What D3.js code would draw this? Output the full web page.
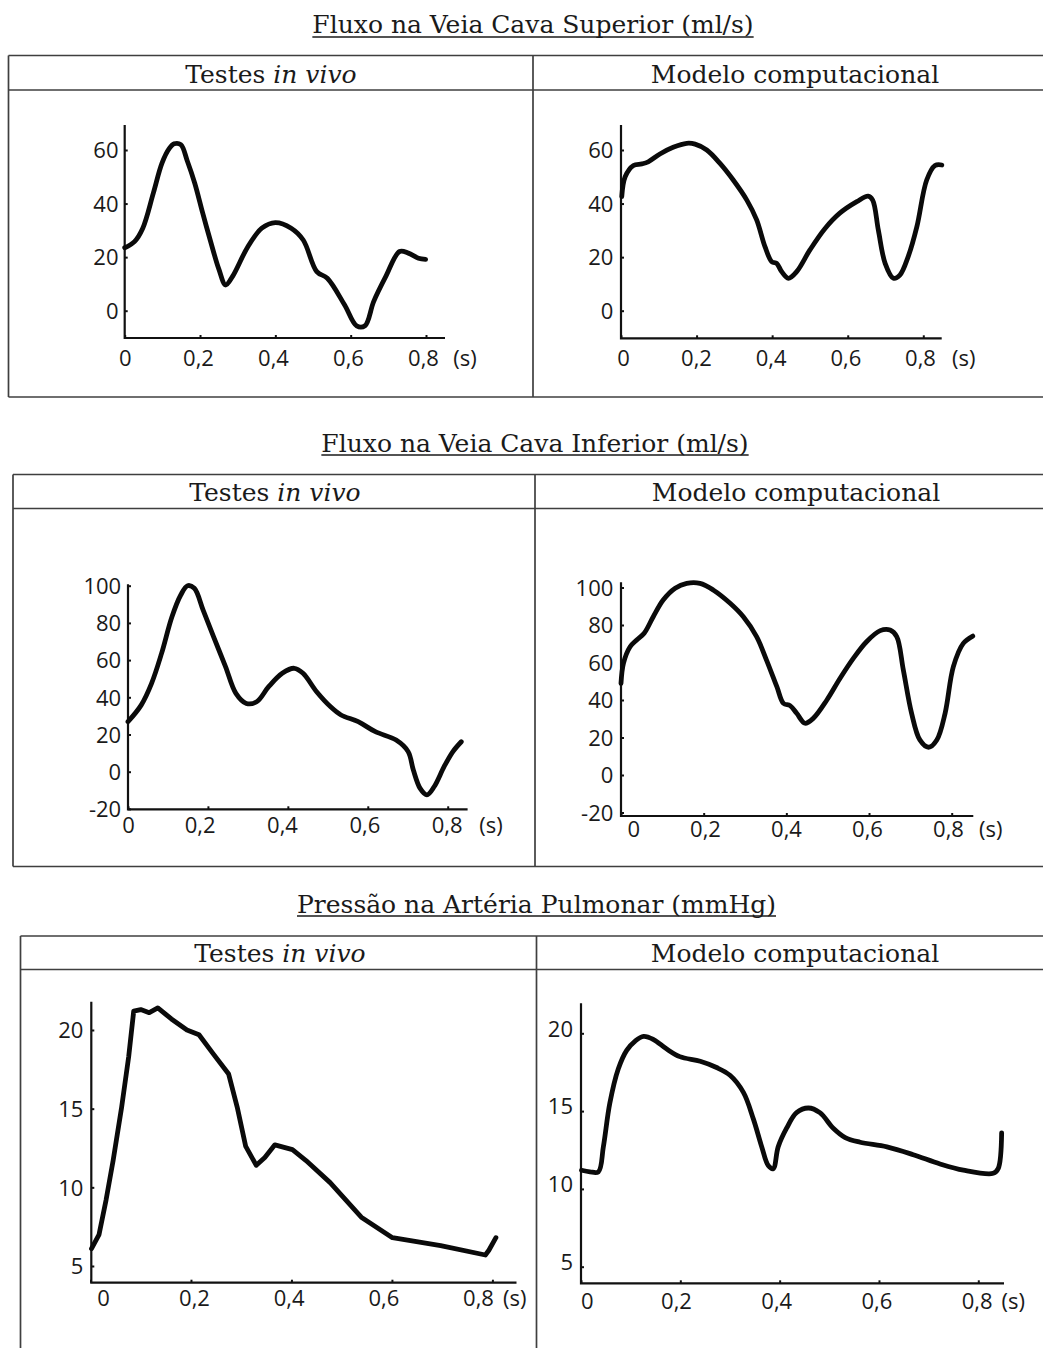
<!DOCTYPE html>
<html>
<head>
<meta charset="utf-8">
<script src="https://cdn.jsdelivr.net/npm/d3@7"></script>
<style>
  body { margin: 0; background: #fff; }
  svg { display: block; }
  .title, .head { font-family: "DejaVu Serif", serif; font-size: 25px; fill: #1a1a1a; }
  .tick-lab text, .unit { font-family: "Open Sans", sans-serif; font-size: 22px; fill: #1a1a1a; }
</style>
</head>
<body>
<svg id="chart" width="1043" height="1348"></svg>
<script>
// ---- tick values and labels ----
const xTicks = [0, 0.2, 0.4, 0.6, 0.8];
const xTickLabels = ["0", "0,2", "0,4", "0,6", "0,8"];
const flowTicksSVC = [0, 20, 40, 60];
const flowTicksIVC = [-20, 0, 20, 40, 60, 80, 100];
const pressureTicks = [5, 10, 15, 20];

// ---- text ----
const sectionTitles = [
  "Fluxo na Veia Cava Superior (ml/s)",
  "Fluxo na Veia Cava Inferior (ml/s)",
  "Pressão na Artéria Pulmonar (mmHg)"
];
const columnTitles = [["Testes ", "in vivo"], ["Modelo computacional", ""]];

// ---- series: [time (s), value] ----
const svcInVivo = [
  [0, 23.5], [0.026, 25.8], [0.048, 30.8], [0.076, 43.9], [0.099, 55.1], [0.118, 60.5],
  [0.131, 62.3], [0.149, 62], [0.166, 56], [0.186, 47.6], [0.207, 36.5], [0.227, 26.4],
  [0.25, 15.5], [0.268, 9.6], [0.286, 12.7], [0.327, 23.9], [0.364, 30.8], [0.4, 32.9],
  [0.442, 30.8], [0.474, 26.4], [0.51, 14.6], [0.538, 12.1], [0.584, 2.1], [0.616, -5.7],
  [0.638, -5.6], [0.661, 3.4], [0.693, 12.7], [0.73, 22.1], [0.753, 21.5], [0.78, 19.6],
  [0.799, 19.2]
];
const svcModel = [
  [0.002, 42.6], [0.011, 50], [0.033, 54.2], [0.055, 54.8], [0.072, 55.6], [0.103, 58.5],
  [0.138, 61], [0.174, 62.5], [0.196, 62.2], [0.227, 60], [0.262, 55], [0.297, 48.8],
  [0.333, 41.3], [0.359, 33.9], [0.381, 23.9], [0.399, 18.3], [0.412, 17.7], [0.425, 14.6],
  [0.443, 12.1], [0.465, 14.6], [0.5, 22.7], [0.54, 30.7], [0.579, 36.4], [0.624, 40.7],
  [0.654, 42.8], [0.666, 41.3], [0.681, 30.1], [0.699, 17.7], [0.721, 12.1], [0.738, 13.3],
  [0.76, 20.2], [0.783, 31.4], [0.809, 48.8], [0.831, 54.2], [0.849, 54.4]
];
const ivcInVivo = [
  [0, 26.9], [0.033, 35.8], [0.059, 47.5], [0.084, 63.6], [0.11, 83.3], [0.132, 95],
  [0.149, 100], [0.166, 98.6], [0.188, 86.9], [0.214, 72.6], [0.244, 56.5], [0.27, 42.1],
  [0.296, 36.7], [0.322, 37.6], [0.352, 45.7], [0.386, 52.9], [0.416, 55.6], [0.438, 52.9],
  [0.472, 43], [0.507, 34.9], [0.533, 30.5], [0.576, 26.9], [0.619, 21.5], [0.671, 17],
  [0.701, 10.8], [0.714, 0.9], [0.731, -9], [0.748, -12.5], [0.766, -8.1], [0.791, 2.7],
  [0.813, 10.8], [0.834, 16.1]
];
const ivcModel = [
  [0, 48.9], [0.006, 59.6], [0.022, 68.4], [0.038, 72], [0.056, 75.6], [0.078, 84.4],
  [0.102, 93.3], [0.131, 99.6], [0.159, 102.2], [0.191, 102.2], [0.223, 98.7], [0.264, 91.6],
  [0.296, 84.4], [0.328, 73.8], [0.352, 61.3], [0.377, 47.1], [0.393, 38.2], [0.409, 37],
  [0.425, 32.9], [0.445, 27.6], [0.465, 30.2], [0.498, 40], [0.53, 51.6], [0.562, 62.2],
  [0.594, 71.1], [0.627, 77], [0.651, 77.3], [0.667, 73.8], [0.683, 56], [0.703, 32.9],
  [0.723, 18.7], [0.744, 14.8], [0.764, 18.7], [0.784, 32.9], [0.804, 57.8], [0.828, 70.2],
  [0.851, 74.1]
];
const paInVivo = [
  [0.002, 6.1], [0.017, 7], [0.031, 9.2], [0.045, 11.7], [0.062, 15.1], [0.076, 18.3],
  [0.086, 21.2], [0.1, 21.3], [0.117, 21.1], [0.134, 21.4], [0.161, 20.7], [0.192, 20],
  [0.216, 19.7], [0.244, 18.5], [0.275, 17.2], [0.292, 15.1], [0.309, 12.6], [0.33, 11.4],
  [0.347, 11.9], [0.367, 12.7], [0.402, 12.4], [0.429, 11.7], [0.477, 10.3], [0.539, 8.1],
  [0.601, 6.8], [0.697, 6.3], [0.786, 5.7], [0.793, 6], [0.807, 6.8]
];
const paModel = [
  [0.001, 11.2], [0.018, 11.1], [0.035, 11.1], [0.045, 12.7], [0.058, 15.5], [0.075, 17.7],
  [0.092, 18.9], [0.109, 19.5], [0.126, 19.8], [0.146, 19.6], [0.172, 19], [0.199, 18.5],
  [0.24, 18.2], [0.273, 17.8], [0.3, 17.3], [0.327, 16.2], [0.347, 14.5], [0.364, 12.7],
  [0.377, 11.5], [0.387, 11.3], [0.397, 12.7], [0.414, 13.9], [0.434, 14.9], [0.458, 15.2],
  [0.481, 14.9], [0.508, 13.9], [0.532, 13.3], [0.562, 13], [0.616, 12.7], [0.669, 12.2],
  [0.723, 11.6], [0.77, 11.2], [0.83, 11], [0.84, 11.3], [0.847, 13.6]
];

// ---- layout of the three table sections ----
const sections = [
  { title: sectionTitles[0], tx: 533, ty: 33, uy: 37,
    left: 8.5, top: 55.5, head: 90, bottom: 397, divider: 533,
    hy: 82.5, hl: 271, hr: 795 },
  { title: sectionTitles[1], tx: 535, ty: 451.5, uy: 455,
    left: 13, top: 474.5, head: 508.5, bottom: 866.5, divider: 535,
    hy: 501, hl: 275, hr: 796 },
  { title: sectionTitles[2], tx: 536.5, ty: 912.5, uy: 916,
    left: 20.5, top: 936, head: 969.5, bottom: null, divider: 536.5,
    hy: 962, hl: 280, hr: 795 }
];

// ---- layout of the six plots ----
const smooth = d3.curveCatmullRom.alpha(0.5);
const panels = [
  { data: svcInVivo, yTicks: flowTicksSVC, curve: smooth,
    x: [124.7, 426], y: [[0, 310.7], [60, 150]], axX: [124.7, 445], axY: [125, 338],
    lab: [124.7, 198, 423], labY: 358, pad: 6.2, dy: 0, unit: 465 },
  { data: svcModel, yTicks: flowTicksSVC, curve: smooth,
    x: [621, 923.3], y: [[0, 310.7], [60, 150]], axX: [621, 941.7], axY: [125, 338.3],
    lab: [623, 696, 920], labY: 358.3, pad: 7.7, dy: 0, unit: 963.7 },
  { data: ivcInVivo, yTicks: flowTicksIVC, curve: smooth,
    x: [128, 447.7], y: [[0, 771.7], [100, 585.7]], axX: [128, 467.6], axY: [584.3, 809.3],
    lab: [128, 199.7, 446.6], labY: 825, pad: 6.8, dy: 0, unit: 491 },
  { data: ivcModel, yTicks: flowTicksIVC, curve: smooth,
    x: [621, 951.7], y: [[0, 775], [100, 587.5]], axX: [621, 973.3], axY: [582.3, 816],
    lab: [633.3, 705, 948], labY: 829.3, pad: 7.7, dy: 0, unit: 990.8 },
  { data: paInVivo, yTicks: pressureTicks, curve: d3.curveLinear,
    x: [90.5, 492.4], y: [[5, 1266], [20, 1030]], axX: [91.3, 516.5], axY: [1001.7, 1282.7],
    lab: [103, 194, 478], labY: 1298.3, pad: 8, dy: 0, unit: 514.8 },
  { data: paModel, yTicks: pressureTicks, curve: smooth,
    x: [581, 978.3], y: [[5, 1266.7], [20, 1033.3]], axX: [581, 1004], axY: [1003.3, 1283.3],
    lab: [586.7, 676, 976.7], labY: 1301.7, pad: 8, dy: -5, unit: 1013.3 }
];

const svg = d3.select("#chart");
const ink = "#111";
const frame = "#3f3f3f";

// ---- sections: underlined title, table frame and column headers ----
sections.forEach(s => {
  const g = svg.append("g");
  const t = g.append("text").attr("class", "title")
    .attr("x", s.tx).attr("y", s.ty).attr("text-anchor", "middle").text(s.title);
  const bb = t.node().getBBox();
  g.append("line")
    .attr("x1", bb.x).attr("x2", bb.x + bb.width)
    .attr("y1", s.uy).attr("y2", s.uy)
    .attr("stroke", "#1a1a1a").attr("stroke-width", 1.5);

  const bottom = s.bottom == null ? 1360 : s.bottom;
  const right = 1060;
  const lines = [
    [s.left, s.top, right, s.top],
    [s.left, s.head, right, s.head],
    [s.left, s.top, s.left, bottom],
    [s.divider, s.top, s.divider, bottom]
  ];
  if (s.bottom != null) lines.push([s.left, bottom, right, bottom]);
  g.selectAll("line.frame").data(lines).join("line").attr("class", "frame")
    .attr("x1", d => d[0]).attr("y1", d => d[1]).attr("x2", d => d[2]).attr("y2", d => d[3])
    .attr("stroke", frame).attr("stroke-width", 1.7);

  [[s.hl, columnTitles[0]], [s.hr, columnTitles[1]]].forEach(([cx, parts]) => {
    const h = g.append("text").attr("class", "head")
      .attr("x", cx).attr("y", s.hy).attr("text-anchor", "middle");
    h.append("tspan").text(parts[0]);
    if (parts[1]) h.append("tspan").attr("font-style", "italic").text(parts[1]);
  });
});

// ---- plots ----
panels.forEach(p => {
  const g = svg.append("g");
  const xs = d3.scaleLinear().domain([0, 0.8]).range(p.x);
  const ys = d3.scaleLinear().domain([p.y[0][0], p.y[1][0]]).range([p.y[0][1], p.y[1][1]]);

  // tick nubs on the x axis
  g.append("g").attr("transform", `translate(0,${p.axY[1]})`)
    .call(d3.axisBottom(xs).tickValues(xTicks).tickSize(-3).tickSizeOuter(0).tickFormat(() => ""))
    .call(a => a.select(".domain").remove())
    .call(a => a.selectAll("line").attr("stroke", ink).attr("stroke-width", 2));

  // y axis: nubs and value labels
  g.append("g").attr("class", "tick-lab").attr("transform", `translate(${p.axX[0]},0)`)
    .call(d3.axisLeft(ys).tickValues(p.yTicks).tickSize(-3).tickSizeOuter(0)
      .tickPadding(p.pad).tickFormat(d => String(d)))
    .call(a => a.select(".domain").remove())
    .call(a => a.selectAll("line").attr("stroke", ink).attr("stroke-width", 2))
    .call(a => a.selectAll("text").attr("fill", "#1a1a1a").attr("font-size", null)
      .attr("font-family", null).attr("dy", "0.35em")
      .attr("transform", `translate(0,${p.dy})`));

  // x value labels
  const xl = d3.scaleLinear().domain([0, 0.2, 0.8]).range(p.lab);
  g.append("g").attr("class", "tick-lab").attr("transform", `translate(0,${p.labY})`)
    .call(d3.axisBottom(xl).tickValues(xTicks).tickSize(0).tickPadding(0)
      .tickFormat((d, i) => xTickLabels[i]))
    .call(a => a.select(".domain").remove())
    .call(a => a.selectAll("text").attr("fill", "#1a1a1a").attr("font-size", null)
      .attr("font-family", null).attr("y", 0).attr("dy", "0.35em"));

  g.append("text").attr("class", "unit")
    .attr("x", p.unit).attr("y", p.labY).attr("dy", "0.35em")
    .attr("text-anchor", "middle").text("(s)");

  // axis lines
  g.append("path")
    .attr("d", `M${p.axX[0]},${p.axY[0]}V${p.axY[1]}H${p.axX[1]}`)
    .attr("fill", "none").attr("stroke", ink).attr("stroke-width", 2.2);

  // waveform
  const line = d3.line().x(d => xs(d[0])).y(d => ys(d[1])).curve(p.curve);
  g.append("path").datum(p.data)
    .attr("d", line)
    .attr("fill", "none").attr("stroke", "#0a0a0a")
    .attr("stroke-width", 4.8).attr("stroke-linejoin", "round").attr("stroke-linecap", "round");
});
</script>
</body>
</html>
